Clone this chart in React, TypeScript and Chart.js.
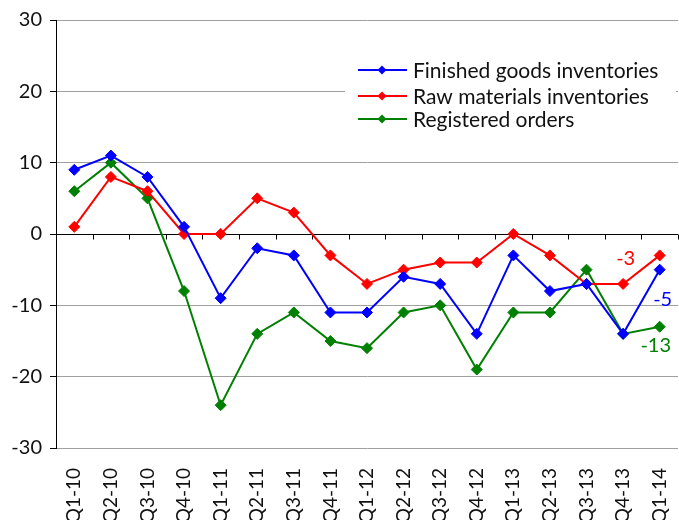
import React, { useEffect, useRef } from 'react';
import { Chart, registerables } from 'chart.js';

Chart.register(...registerables);

const categories = ['Q1-10', 'Q2-10', 'Q3-10', 'Q4-10', 'Q1-11', 'Q2-11', 'Q3-11', 'Q4-11', 'Q1-12', 'Q2-12', 'Q3-12', 'Q4-12', 'Q1-13', 'Q2-13', 'Q3-13', 'Q4-13', 'Q1-14'];
const finishedGoods = [9, 11, 8, 1, -9, -2, -3, -11, -11, -6, -7, -14, -3, -8, -7, -14, -5];
const rawMaterials = [1, 8, 6, 0, 0, 5, 3, -3, -7, -5, -4, -4, 0, -3, -7, -7, -3];
const registeredOrders = [6, 10, 5, -8, -24, -14, -11, -15, -16, -11, -10, -19, -11, -11, -5, -14, -13];
const seriesNames = ['Finished goods inventories', 'Raw materials inventories', 'Registered orders'];
const seriesColors = ['#0000ff', '#ff0000', '#008000'];
const yMin = -30;
const yMax = 30;
const yStep = 10;

const FONT = 'Lato, "Open Sans", sans-serif';

const zeroAxisPlugin = {
  id: 'zeroAxis',
  beforeDatasetsDraw(chart: any) {
    const { ctx, chartArea, scales } = chart;
    const y0 = Math.round(scales.y.getPixelForValue(0)) + 0.5;
    ctx.save();
    ctx.strokeStyle = '#000';
    ctx.lineWidth = 1;
    ctx.beginPath();
    ctx.moveTo(chartArea.left, y0);
    ctx.lineTo(chartArea.right, y0);
    const n = categories.length;
    const step = (chartArea.right - chartArea.left) / n;
    for (let i = 1; i <= n; i++) {
      const x = Math.round(chartArea.left + i * step) + 0.5;
      ctx.moveTo(x, y0);
      ctx.lineTo(x, y0 + 5);
    }
    ctx.stroke();
    ctx.restore();
  },
};

const legendPlugin = {
  id: 'customLegend',
  afterDraw(chart: any) {
    const { ctx } = chart;
    ctx.save();
    ctx.fillStyle = '#fff';
    ctx.fillRect(345, 48, 331, 92);
    ctx.font = `21px ${FONT}`;
    ctx.textBaseline = 'middle';
    const rows = [70, 96, 119];
    chart.data.datasets.forEach((ds: any, i: number) => {
      const y = rows[i];
      ctx.strokeStyle = ds.borderColor;
      ctx.lineWidth = 2;
      ctx.beginPath();
      ctx.moveTo(358, y);
      ctx.lineTo(407, y);
      ctx.stroke();
      ctx.fillStyle = ds.borderColor;
      ctx.beginPath();
      const r = 4.5;
      ctx.moveTo(382, y - r);
      ctx.lineTo(382 + r, y);
      ctx.lineTo(382, y + r);
      ctx.lineTo(382 - r, y);
      ctx.closePath();
      ctx.fill();
      ctx.fillStyle = '#111';
      ctx.textAlign = 'left';
      ctx.fillText(ds.label, 413, y + 1);
    });
    ctx.restore();
  },
};

const endLabelPlugin = {
  id: 'endLabels',
  afterDatasetsDraw(chart: any) {
    const { ctx } = chart;
    const offsets = [
      [3, 30],
      [-34, 3],
      [-4, 19],
    ];
    ctx.save();
    ctx.font = `20px ${FONT}`;
    ctx.textAlign = 'center';
    ctx.textBaseline = 'middle';
    chart.data.datasets.forEach((ds: any, i: number) => {
      const meta = chart.getDatasetMeta(i);
      const last = meta.data[meta.data.length - 1];
      const val = ds.data[ds.data.length - 1];
      ctx.fillStyle = ds.borderColor;
      ctx.fillText(String(val), last.x + offsets[i][0], last.y + offsets[i][1]);
    });
    ctx.restore();
  },
};

export default function App() {
  const ref = useRef<HTMLCanvasElement>(null);
  useEffect(() => {
    document.body.style.margin = '0';
    if (!ref.current) return;
    const mk = (label: string, data: number[], color: string) => ({
      label,
      data,
      borderColor: color,
      backgroundColor: color,
      borderWidth: 2,
      pointStyle: 'rectRot',
      pointRadius: 5.5,
      pointBorderWidth: 1,
      pointBackgroundColor: color,
      pointBorderColor: color,
      tension: 0,
    });
    const chart = new Chart(ref.current, {
      type: 'line',
      data: {
        labels: categories,
        datasets: [
          mk(seriesNames[0], finishedGoods, seriesColors[0]),
          mk(seriesNames[1], rawMaterials, seriesColors[1]),
          mk(seriesNames[2], registeredOrders, seriesColors[2]),
        ],
      },
      options: {
        animation: false,
        responsive: false,
        layout: { autoPadding: false, padding: { top: 18, right: 1, left: 0, bottom: 0 } },
        plugins: {
          legend: { display: false },
          tooltip: { enabled: false },
        },
        scales: {
          x: {
            offset: true,
            grid: { display: false },
            border: { display: false },
            ticks: {
              minRotation: 90,
              maxRotation: 90,
              autoSkip: false,
              padding: 12,
              color: '#111',
              font: { family: FONT, size: 19 },
            },
            afterFit(scale: any) {
              scale.height = 72;
              scale.paddingLeft = 0;
              scale.paddingRight = 0;
            },
          },
          y: {
            min: yMin,
            max: yMax,
            ticks: {
              stepSize: yStep,
              color: '#111',
              padding: 8,
              font: { family: FONT, size: 20 },
            },
            grid: {
              color: '#a0a0a0',
              tickColor: '#000',
              tickLength: 6,
              lineWidth: 1,
            },
            border: { color: '#000', width: 1 },
            afterFit(scale: any) {
              scale.width = 56;
            },
          },
        },
      },
      plugins: [zeroAxisPlugin, endLabelPlugin, legendPlugin],
    } as any);
    return () => chart.destroy();
  }, []);
  return <canvas ref={ref} width={679} height={520} style={{ display: 'block' }} />;
}
